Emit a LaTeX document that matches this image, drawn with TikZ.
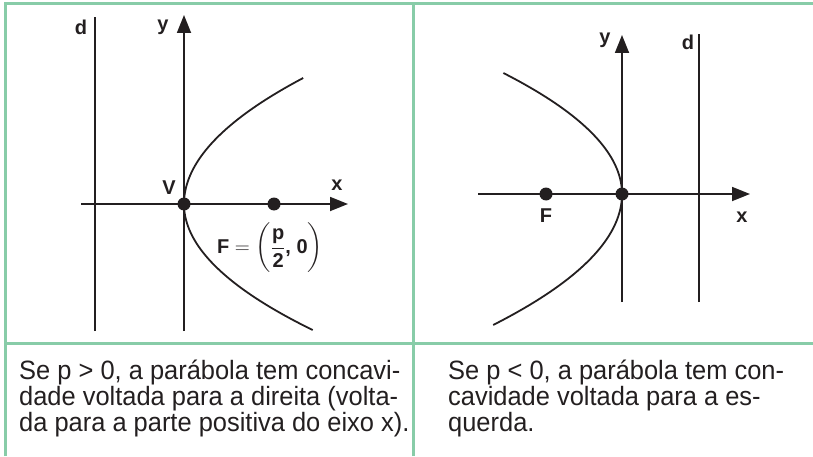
\documentclass[tikz,border=0pt]{standalone}
\usepackage{amsmath}
\usepackage{fontspec}
\setmainfont{Liberation Sans}
\newfontfamily\narrowfont[FakeStretch=0.96]{Liberation Sans}
\usetikzlibrary{arrows.meta, positioning}
\definecolor{framegreen}{RGB}{136,204,168}
\definecolor{ink}{RGB}{35,31,32}
\tikzset{x = 1pt, y = 1pt,
         panelframe/.style = {draw = framegreen, line width = 3pt},
         guide/.style = {draw = ink, line width = 1.8pt},
         axisline/.style = {guide, -{Triangle[length = 18pt, width = 14pt]}},
         dot/.style = {circle, fill = ink, inner sep = 0pt, minimum size = 13pt},
         lbl/.style = {text = ink, font = \bfseries\fontsize{20}{20}\selectfont, inner sep = 0pt},
         captext/.style = {text = ink, font = \narrowfont\fontsize{26.5}{26}\selectfont,
                           align = left, anchor = base west, inner sep = 0pt}}

\begin{document}
\begin{tikzpicture}
  \useasboundingbox (0,0) rectangle (813,456);

  % frame of the table
  \draw[panelframe] (5,0) -- (5,452) -- (813,452);
  \draw[panelframe] (5,113) -- (813,113);
  \draw[panelframe] (413,0) -- (413,452);

  % p > 0
  \coordinate (xs1) at (81,252);
  \coordinate (xe1) at (348,252);
  \coordinate (ys1) at (184,125);
  \coordinate (ye1) at (184,441);
  \coordinate (ds1) at (95,125);
  \coordinate (de1) at (95,439);
  \draw[axisline] (xs1) -- (xe1);
  \draw[axisline] (ys1) -- (ye1);
  \draw[guide]    (ds1) -- (de1);
  \draw[guide] plot[domain = 126:0, samples = 60] ({184+0.0075*(\x)*(\x)}, {252+\x})
            -- plot[domain = 0:-126, samples = 60] ({184+0.0081*(\x)*(\x)}, {252+\x});
  \node[dot] (v1) at (184,252) {};
  \node[dot] (f1) at (274,252) {};

  \node[lbl] (d1)   at (81,429)  {d};
  \node[lbl] (y1)   at (163,429) {y};
  \node[lbl] (x1)   at (337,271) {x};
  \node[lbl] (V1)   at (169,268) {V};
  \node[lbl] (F1)   at (270,208)
    {F $=\left(\dfrac{\hbox{p}\vphantom{\hbox{d}}}{\hbox{2}}\hbox{, 0}\right)$};

  % p < 0
  \coordinate (xs2) at (478,262);
  \coordinate (xe2) at (750,262);
  \coordinate (ys2) at (622,154);
  \coordinate (ye2) at (622,421);
  \coordinate (ds2) at (699,154);
  \coordinate (de2) at (699,422);
  \draw[axisline] (xs2) -- (xe2);
  \draw[axisline] (ys2) -- (ye2);
  \draw[guide]    (ds2) -- (de2);
  \draw[guide] plot[domain = 121:0, samples = 60] ({622-0.0081*(\x)*(\x)}, {262+\x})
            -- plot[domain = 0:-131, samples = 60] ({622-0.0075*(\x)*(\x)}, {262+\x});
  \node[dot] (v2) at (622,262) {};
  \node[dot] (f2) at (546,262) {};

  \node[lbl] (y2)   at (605,416) {y};
  \node[lbl] (d2)   at (688,414) {d};
  \node[lbl] (x2)   at (742,239) {x};
  \node[lbl] (F2)   at (546,240) {F};

  % captions
  \node[captext] (cap1) at (19,25)
    {Se p > 0, a parábola tem concavi-\\dade voltada para a direita (volta-\\da para a parte positiva do eixo x).};
  \node[captext] (cap2) at (448,25)
    {Se p < 0, a parábola tem con-\\cavidade voltada para a es-\\querda.};
\end{tikzpicture}
\end{document}
